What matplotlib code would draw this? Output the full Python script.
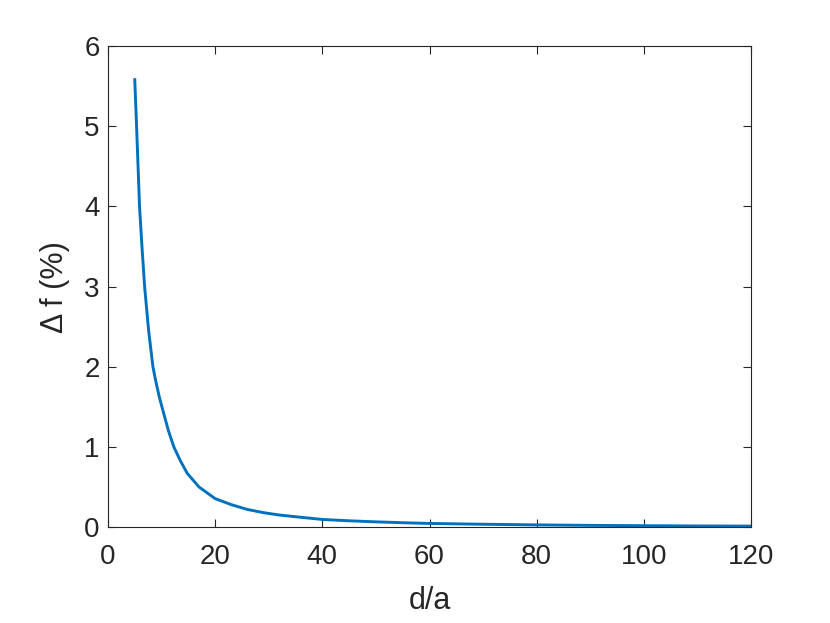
import numpy as np
import matplotlib
matplotlib.use("Agg")
import matplotlib.pyplot as plt

plt.rcParams['font.family'] = ['Liberation Sans', 'DejaVu Sans']

# valores
d_a = [5.0, 5.35, 5.9, 6.4, 6.85, 7.6, 8.4, 8.9, 9.6, 10.4, 11.3, 12.3, 13.5,
       14.8, 17.0, 20.0, 23.0, 26.0, 29.0, 32.0, 36.0, 40.0, 45.0, 50.0,
       55.0, 60.0, 70.0, 80.0, 90.0, 100.0, 110.0, 120.0]
delta_f = [5.6, 5.0, 4.0, 3.45, 3.0, 2.45, 2.0, 1.83, 1.62, 1.42, 1.2, 1.0, 0.83,
           0.67, 0.5, 0.355, 0.28, 0.22, 0.18, 0.15, 0.122, 0.095, 0.078, 0.065,
           0.054, 0.045, 0.035, 0.027, 0.021, 0.017, 0.014, 0.012]

x_ticks = [0, 20, 40, 60, 80, 100, 120]
y_ticks = [0, 1, 2, 3, 4, 5, 6]

fig = plt.figure(figsize=(8.3, 6.23), dpi=100)
ax = fig.add_axes([0.130, 0.154, 0.775, 0.772])

ax.plot(d_a, delta_f, color='#0072BD', linewidth=2.1,
        solid_joinstyle='round', solid_capstyle='butt')

ax.set_xlim(0, 120)
ax.set_ylim(0, 6)
ax.set_xticks(x_ticks)
ax.set_yticks(y_ticks)
ax.tick_params(direction='in', length=6, width=0.8, top=True, right=True,
               labelsize=20, colors='#262626', pad=6)
ax.tick_params(axis='x', pad=12)
for s in ax.spines.values():
    s.set_color('#262626')
    s.set_linewidth(0.8)

ax.set_xlabel('d/a', fontsize=22, color='#262626', labelpad=12)
ax.set_ylabel('Δ f (%)', fontsize=22, color='#262626', labelpad=10)

fig.savefig('out.png', dpi=100)
